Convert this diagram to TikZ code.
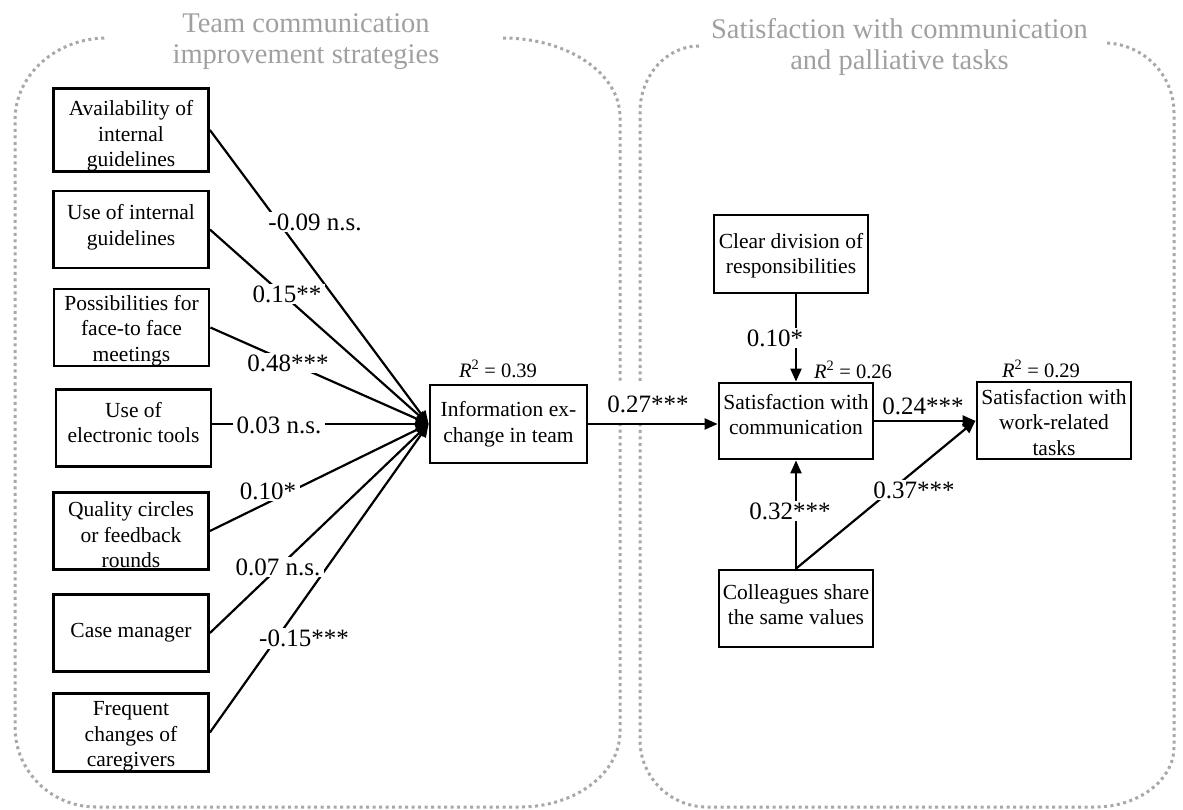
\documentclass[tikz,border=0pt]{standalone}
\usepackage{fontspec}
\setmainfont{Liberation Serif}
\usetikzlibrary{arrows.meta}
\definecolor{dotgray}{RGB}{168,168,168}
\definecolor{ttlgray}{RGB}{160,160,160}
\newcommand\bxfont{\fontsize{21.5}{25.5}\selectfont}
\newcommand\lbfont{\fontsize{25}{28}\selectfont}
\newcommand\rqfont{\fontsize{20.5}{22}\selectfont}
\newcommand\ttlfont{\fontsize{28.5}{31}\selectfont}
\tikzset{
 bx/.style={draw, line width=2.8pt, minimum width=155pt, minimum height=77pt, inner sep=0pt, align=center, font=\bxfont},
 lbl/.style={fill=white, inner xsep=4pt, inner ysep=2pt, font=\lbfont},
 rsq/.style={font=\rqfont, inner sep=0pt},
 ttl/.style={text=ttlgray, align=center, font=\ttlfont, inner sep=0pt},
 conn/.style={line width=2.2pt},
 arr/.style={conn, -{Triangle[length=13pt,width=11pt]}},
 frame/.style={draw=dotgray, line width=3pt, dash pattern=on 3pt off 3.5pt}
}
\begin{document}
\begin{tikzpicture}[x=1pt,y=-1pt]
\useasboundingbox (0,0) rectangle (1183,809);
% dotted frames
\draw[frame] (503,38) .. controls (567.6,38) and (620,73.4) .. (620,117) -- (620,732)
  .. controls (620,773.4) and (575.2,807) .. (520,807) -- (96,807)
  .. controls (51.3,807) and (15,771.2) .. (15,727) -- (15,120)
  .. controls (15,74.7) and (56.2,38) .. (107,38);
\draw[frame] (699,46) .. controls (666.4,46) and (640,75.6) .. (640,112) -- (640,740)
  .. controls (640,777) and (670,807) .. (707,807) -- (1095,807)
  .. controls (1138.6,807) and (1174,780) .. (1174,747) -- (1174,113)
  .. controls (1174,74.4) and (1142.6,43) .. (1104,43);
% titles
\node[ttl] (t1) at (306,42) {Team communication\\improvement strategies};
\node[ttl] (t2) at (899.5,46.5) {Satisfaction with communication\\and palliative tasks};
% left boxes
\node[bx, text height=77.7pt] (b1) at (131,130) {Availability of\\internal\\guidelines};
\node[bx, text depth=9pt] (b2) at (131,229.5) {Use of internal\\guidelines};
\node[bx, text height=71.7pt] (b3) at (131.5,327.5) {Possibilities for\\face-to face\\meetings};
\node[bx, text depth=11pt] (b4) at (133.5,428) {Use of\\electronic tools};
\node[bx, text height=73.7pt] (b5) at (131,531) {Quality circles\\or feedback\\rounds};
\node[bx] (b6) at (131,633) {Case manager};
\node[bx, text height=73.2pt] (b7) at (131,732.5) {Frequent\\changes of\\caregivers};
% central and right boxes
\node[bx, minimum width=157pt, minimum height=78pt] (ie) at (508.5,424) {Information ex-\\change in team};
\node[bx, minimum width=154pt, minimum height=78pt, text height=44.2pt] (cd) at (791,254) {Clear division of\\responsibilities};
\node[bx, minimum width=154pt, minimum height=76pt, text depth=13pt] (sc) at (796,421) {Satisfaction with\\communication};
\node[bx, minimum width=154pt, text height=69.7pt] (sw) at (1054,420.5) {Satisfaction with\\work-related\\tasks};
\node[bx, minimum width=154pt, text depth=8pt] (co) at (796,608.5) {Colleagues share\\the same values};
% R squared
\node[rsq] (r1) at (498,369) {\textit{R}\textsuperscript{2} = 0.39};
\node[rsq] (r2) at (853,370) {\textit{R}\textsuperscript{2} = 0.26};
\node[rsq] (r3) at (1041,369) {\textit{R}\textsuperscript{2} = 0.29};
% labels lying under their arrows
\node[lbl, minimum height=42pt] (l8) at (648,404) {0.27***};
\node[lbl, inner ysep=0pt] (l10) at (923,406) {0.24***};
% connectors
\draw[arr] (b1.east) -- (ie.west);
\draw[arr] (b2.east) -- (ie.west);
\draw[arr] (b3.east) -- (ie.west);
\draw[arr] (b4.east |- ie.west) -- (ie.west);
\draw[arr] (b5.east) -- (ie.west);
\draw[arr] (b6.east) -- (ie.west);
\draw[arr] (b7.east) -- (ie.west);
\draw[arr] (ie.east) -- (ie.east -| sc.west);
\draw[arr] (cd.south -| sc.north) -- (sc.north);
\draw[arr] (co.north) -- (sc.south);
\draw[arr] (sc.east) -- (sc.east -| sw.west);
\draw[arr] (co.north) -- (sw.west);
% labels breaking the connectors
\node[lbl] (l1) at (315,222) {-0.09 n.s.};
\node[lbl] (l2) at (287,294) {0.15**};
\node[lbl] (l3) at (288,363) {0.48***};
\node[lbl] (l4) at (279,425) {0.03 n.s.};
\node[lbl] (l5) at (268,491) {0.10*};
\node[lbl] (l6) at (278,567) {0.07 n.s.};
\node[lbl] (l7) at (304,638) {-0.15***};
\node[lbl] (l9) at (775,338) {0.10*};
\node[lbl] (l11) at (790,511) {0.32***};
\node[lbl] (l12) at (914,490) {0.37***};
\end{tikzpicture}
\end{document}
